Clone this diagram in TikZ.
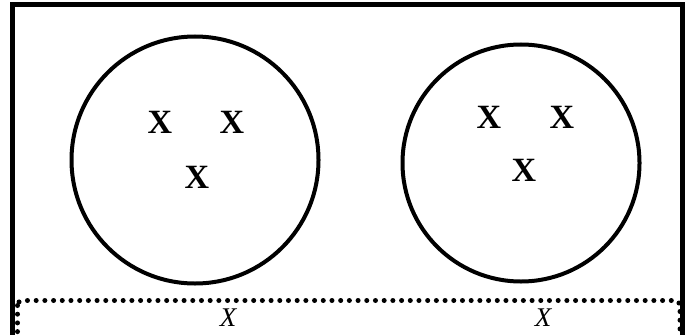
\documentclass[tikz,border=0pt]{standalone}
\usepackage{fontspec}
\setmainfont{Liberation Serif}
\begin{document}
\begin{tikzpicture}[x=1pt,y=-1pt,
  frame/.style={draw=black,line width=5pt},
  blob/.style={draw=black,line width=4pt},
  bx/.style={font=\fontsize{34}{36}\selectfont\bfseries,inner sep=0pt},
  ix/.style={font=\fontsize{27}{29}\selectfont\itshape,inner sep=0pt},
  dotline/.style={draw=black,line width=5pt,line cap=round,dash pattern=on 0pt off 8.7pt}]
\useasboundingbox (0,0) rectangle (692,334);
\draw[frame] (12.5,4.5) rectangle (682.5,340);
\draw[dotline,rounded corners=5pt] (17.5,300.5) rectangle (680,345);
\node[blob,circle,minimum size=247pt,inner sep=0pt] (c1) at (195,160) {};
\node[blob,circle,minimum size=237pt,inner sep=0pt] (c2) at (521,163) {};
\node[bx] (a1) at (160,122) {X};
\node[bx] (a2) at (232,122) {X};
\node[bx] (a3) at (197,177) {X};
\node[bx] (b1) at (489,117) {X};
\node[bx] (b2) at (562,117) {X};
\node[bx] (b3) at (524,170) {X};
\node[ix] (d1) at (228,318) {X};
\node[ix] (d2) at (543,318) {X};
\end{tikzpicture}
\end{document}
